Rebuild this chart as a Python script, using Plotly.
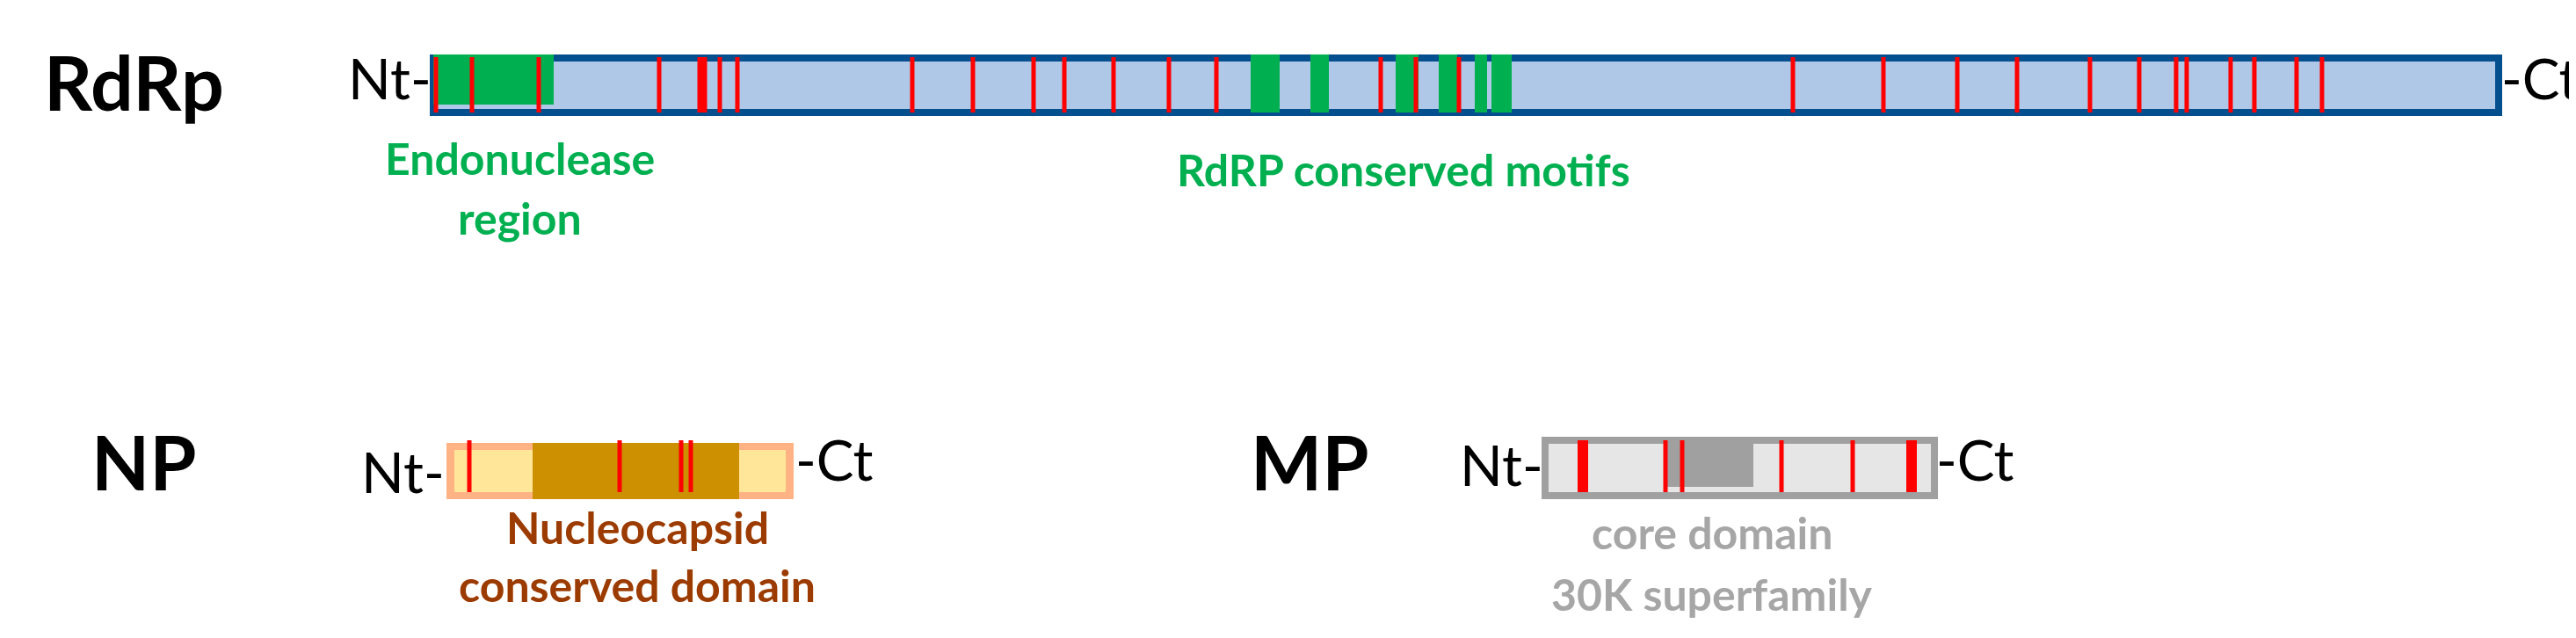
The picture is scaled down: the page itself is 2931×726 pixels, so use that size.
import plotly.graph_objects as go

# positions in sequence-map units (canvas pixels along the bar)
rdrp_span = [485, 2835]
rdrp_endo = [485, 622]
rdrp_motifs = [[1415, 1448], [1483, 1504], [1580, 1606], [1629, 1650], [1670, 1684], [1689, 1712]]
rdrp_mut = [488, 529, 605, 742, 791, 811, 831, 1030, 1099, 1168, 1203, 1259, 1322, 1376,
            1563, 1603, 1652, 2032, 2135, 2219, 2287, 2370, 2426, 2468, 2480, 2530, 2557,
            2605, 2634]
rdrp_mut_thick = [791]

np_span = [500, 895]
np_domain = [598, 833]
np_mut = [526, 697, 767, 778]

mp_span = [1750, 2193]
mp_domain = [1885, 1987]
mp_mut = [1793, 1887, 1906, 2019, 2100, 2167]
mp_mut_thick = [1793, 2167]

RED = "#FF0000"
fig = go.Figure()
fig.add_trace(go.Scatter(x=[0, 2931], y=[0, 726], mode="markers", marker=dict(opacity=0),
                         hoverinfo="skip", showlegend=False))


def rect(x0, x1, y0, y1, fill, line=None, lw=0):
    fig.add_shape(type="rect", x0=x0, x1=x1, y0=y0, y1=y1, fillcolor=fill,
                  line=dict(color=line or fill, width=lw), layer="above")


def mut(x, y0, y1, w):
    fig.add_shape(type="line", x0=x, x1=x, y0=y0, y1=y1, line=dict(color=RED, width=w), layer="above")


# RdRp
rect(rdrp_span[0], rdrp_span[1], 58, 120, "#AFC8E8", "#04508F", 8)
rect(rdrp_endo[0], rdrp_endo[1], 54, 111, "#00B050")
for a, b in rdrp_motifs:
    rect(a, b, 54, 120, "#00B050")
for x in rdrp_mut:
    mut(x, 57, 120, 11 if x in rdrp_mut_thick else 5)

# NP
rect(np_span[0], np_span[1], 496, 560, "#FFB385")
rect(np_span[0] + 9, np_span[1] - 9, 504, 552, "#FFE699")
rect(np_domain[0], np_domain[1], 496, 560, "#CC9000")
for x in np_mut:
    mut(x, 493, 552, 5)

# MP
rect(mp_span[0], mp_span[1], 493, 556, "#E6E6E6", "#A0A0A0", 8)
rect(mp_domain[0], mp_domain[1], 493, 546, "#A0A0A0")
for x in mp_mut:
    mut(x, 493, 552, 12 if x in mp_mut_thick else 5)


def txt(x, y, s, size, color="black", bold=False, anchor="center"):
    fig.add_annotation(x=x, y=y, text=f"<b>{s}</b>" if bold else s, showarrow=False,
                       xanchor=anchor, yanchor="middle",
                       font=dict(family="Lato", size=size, color=color))


txt(40, 84, "RdRp", 86, bold=True, anchor="left")
txt(94, 516, "NP", 86, bold=True, anchor="left")
txt(1413, 516, "MP", 86, bold=True, anchor="left")

txt(485, 80, "Nt-", 64, anchor="right")
txt(2836, 80, "-Ct", 64, anchor="left")
txt(500, 528, "Nt-", 64, anchor="right")
txt(895, 514, "-Ct", 64, anchor="left")
txt(1750, 520, "Nt-", 64, anchor="right")
txt(2193, 514, "-Ct", 64, anchor="left")

txt(583, 172, "Endonuclease", 50, "#00B050", True)
txt(583, 240, "region", 50, "#00B050", True)
txt(1589, 185, "RdRP conserved motifs", 50, "#00B050", True)
txt(717, 592, "Nucleocapsid", 50, "#9C3B00", True)
txt(717, 658, "conserved domain", 50, "#9C3B00", True)
txt(1940, 598, "core domain", 50, "#A6A6A6", True)
txt(1940, 668, "30K superfamily", 50, "#A6A6A6", True)

fig.update_xaxes(range=[0, 2931], visible=False)
fig.update_yaxes(range=[726, 0], visible=False)
fig.update_layout(width=2931, height=726, margin=dict(l=0, r=0, t=0, b=0),
                  plot_bgcolor="white", paper_bgcolor="white", showlegend=False)
fig.write_html("out.html")
